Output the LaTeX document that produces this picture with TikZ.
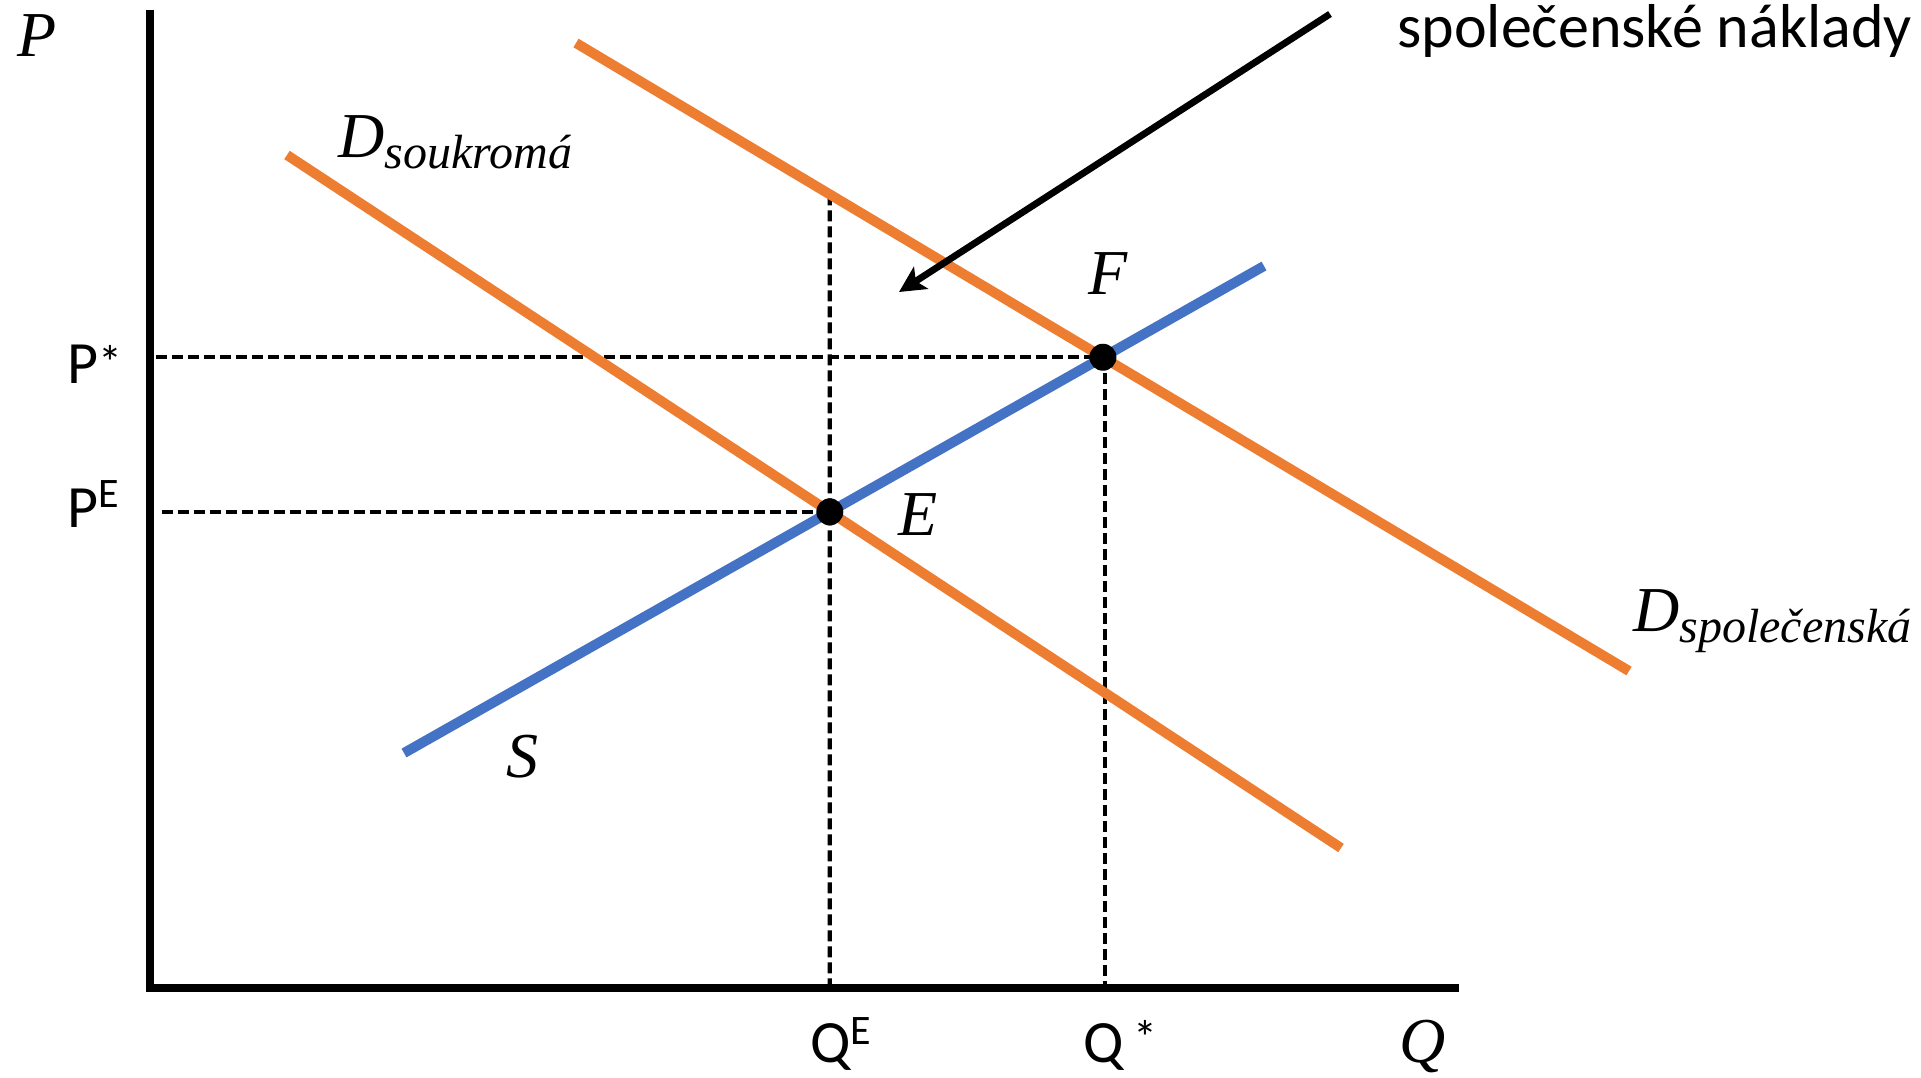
\documentclass[tikz,border=0pt]{standalone}
\usepackage{fontspec}
\setmainfont{Liberation Serif}
\newfontfamily\calibri{Carlito}
\usetikzlibrary{arrows.meta,calc}
\definecolor{dorange}{HTML}{ED7D31}
\definecolor{sblue}{HTML}{4472C4}
\begin{document}
\begin{tikzpicture}[x=0.5pt,y=-0.5pt,
  curve/.style={line width=5pt},
  dashline/.style={dash pattern=on 5.5pt off 2.5pt, line width=2.1pt},
  axisline/.style={line width=3.8pt, line join=miter},
  mlabel/.style={font=\itshape\fontsize{32}{38}\selectfont, inner sep=0pt, anchor=base west},
  slabel/.style={font=\calibri\fontsize{30}{36}\selectfont, inner sep=0pt, anchor=base west},
  dot/.style={circle, fill=black, inner sep=0pt, minimum size=13.5pt}]
\useasboundingbox (0,0) rectangle (1921,1077);
% axes
\coordinate (yt) at (150,10);
\coordinate (o) at (150,988);
\coordinate (xr) at (1459,988);
% curves end points
\coordinate (dp1) at (287,155);
\coordinate (dp2) at (1341,848);
\coordinate (ds1) at (576,43);
\coordinate (ds2) at (1629,671);
\coordinate (s1) at (404,753);
\coordinate (s2) at (1264,266);
\coordinate (E) at (intersection of dp1--dp2 and s1--s2);
\coordinate (F) at (intersection of ds1--ds2 and s1--s2);
\coordinate (qe) at (E |- o);
\coordinate (qs) at ($(F |- o)+(2,0)$);
\coordinate (fb) at ($(F)+(2,0)$);
\coordinate (qetop) at (intersection of ds1--ds2 and E--qe);
\coordinate (pst) at ($(yt |- F)+(6,0)$);
\coordinate (pe) at ($(yt |- E)+(12,0)$);
\coordinate (arr1) at (1330,14);
\coordinate (arr2) at (899,292);
% dashed guides
\draw[dashline] (pst) -- (F);
\draw[dashline] (pe) -- (E);
\draw[dashline] (qetop) -- (qe);
\draw[dashline] (fb) -- (qs);
% axes
\draw[axisline] (yt) -- (o) -- (xr);
% curves
\draw[curve, dorange] (dp1) -- (dp2);
\draw[curve, dorange] (ds1) -- (ds2);
\draw[curve, sblue] (s1) -- (s2);
% points
\node[dot] (Edot) at (E) {};
\node[dot] (Fdot) at (F) {};
% arrow
\draw[line width=3.4pt, -{Stealth[length=13pt, width=13pt, inset=3pt]}] (arr1) -- (arr2);
% labels
\node[mlabel] (lP) at (17,56) {P};
\node[mlabel] (lQ) at (1399,1062) {Q};
\node[mlabel] (lE) at (898,535) {E};
\node[mlabel] (lF) at (1088,294) {F};
\node[mlabel] (lS) at (506,777) {S};
\node[mlabel] (lDs) at (338,157) {D\raisebox{-5.5pt}{\fontsize{24}{28}\selectfont soukromá}};
\node[mlabel] (lDsp) at (1633,631) {D\raisebox{-5.5pt}{\fontsize{24}{28}\selectfont společenská}};
\node[slabel] (lPs) at (67,383) {P\raisebox{2pt}{\fontsize{24}{28}\selectfont *}};
\node[slabel] (lPe) at (67,527) {P\raisebox{10pt}{\fontsize{21}{24}\selectfont E}};
\node[slabel] (lQe) at (810,1062) {Q\raisebox{9pt}{\fontsize{21}{24}\selectfont E}};
\node[slabel] (lQs) at (1083,1062) {Q\hspace{5pt}\raisebox{4pt}{\fontsize{24}{28}\selectfont *}};
\node[slabel, font=\calibri\fontsize{31}{37}\selectfont] (lsn) at (1397,47) {společenské náklady};
\end{tikzpicture}
\end{document}
